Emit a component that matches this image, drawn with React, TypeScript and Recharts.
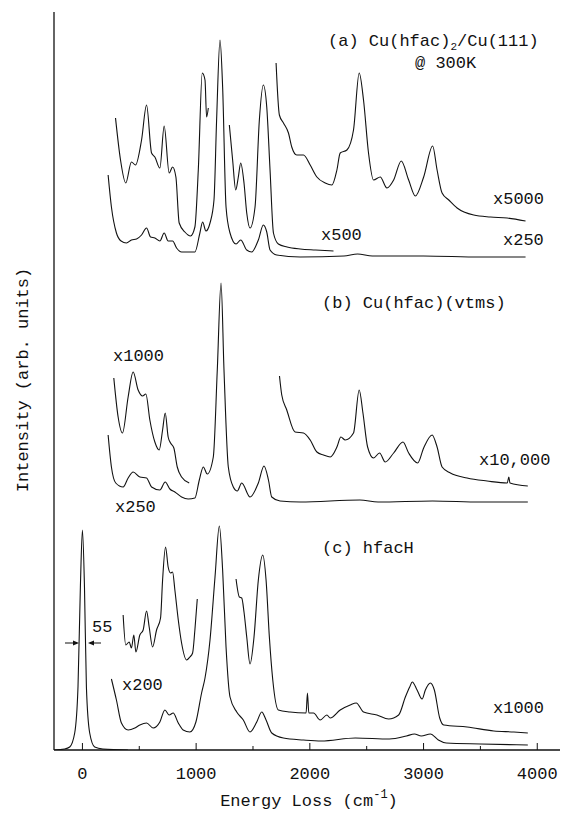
import React from 'react';
import { LineChart, Line, XAxis, YAxis } from 'recharts';

// energy loss (cm-1), intensity (arb. units, offset for stacking)
const aX500Left: [number, number][] = [[291,632],[335,590],[381,567],[431,588],[467,585],[520,610],[564,645],[608,597],[637,593],[681,582],[719,624],[763,577],[793,583],[822,573],[851,527],[901,518],[951,514],[989,523],[1019,580],[1054,677],[1078,670],[1092,633],[1107,642]];
const aX500Right: [number, number][] = [[1292,625],[1321,590],[1348,560],[1371,573],[1392,587],[1421,567],[1445,537],[1474,522],[1518,543],[1556,630],[1591,665],[1621,643],[1650,580],[1680,517],[1723,506],[1800,503],[1915,501],[2050,500],[2208,499]];
const aX250: [number, number][] = [[226,575],[255,543],[299,517],[340,509],[387,507],[431,510],[476,511],[520,515],[564,522],[599,513],[637,512],[681,509],[719,517],[754,509],[793,509],[828,502],[872,498],[989,498],[1033,517],[1057,528],[1086,519],[1122,527],[1157,550],[1180,630],[1210,710],[1233,663],[1263,543],[1298,517],[1351,506],[1392,510],[1445,500],[1489,498],[1547,510],[1591,525],[1621,518],[1650,500],[1709,495],[1915,493],[2300,494],[2420,496],[2550,494],[3000,494],[3500,493],[3897,493]];
const aX5000: [number, number][] = [[1703,687],[1732,635],[1768,627],[1812,617],[1841,603],[1885,595],[1944,595],[2003,585],[2062,573],[2135,567],[2194,565],[2238,580],[2267,597],[2326,600],[2384,620],[2434,677],[2472,650],[2516,597],[2560,570],[2619,573],[2678,562],[2737,570],[2804,589],[2869,570],[2928,554],[3001,573],[3080,604],[3119,580],[3163,557],[3222,550],[3295,542],[3441,535],[3589,533],[3736,532],[3897,529]];

const bX1000: [number, number][] = [[276,372],[314,333],[352,317],[402,353],[446,378],[490,360],[529,354],[558,356],[593,330],[637,308],[675,300],[705,320],[728,337],[754,313],[775,307],[804,302],[834,283],[872,273],[939,267]];
const bX250: [number, number][] = [[226,315],[255,283],[293,267],[358,263],[402,272],[446,278],[505,273],[564,272],[608,263],[681,260],[728,268],[769,261],[813,258],[872,253],[930,251],[989,252],[1028,270],[1063,283],[1098,276],[1151,293],[1186,380],[1219,467],[1245,380],[1283,283],[1327,263],[1362,259],[1401,267],[1474,253],[1547,267],[1597,284],[1636,270],[1665,253],[1738,249],[1915,248],[2440,250],[2600,248],[3080,249],[3500,248],[3917,248]];
const bX10000: [number, number][] = [[1733,374],[1753,355],[1797,340],[1870,318],[1944,317],[2003,310],[2062,298],[2120,295],[2179,293],[2238,303],[2273,313],[2311,310],[2384,317],[2434,360],[2467,337],[2508,303],[2560,292],[2613,297],[2663,288],[2737,297],[2819,308],[2869,297],[2948,287],[3001,302],[3075,315],[3119,303],[3163,283],[3236,277],[3383,272],[3559,269],[3736,267],[3750,273],[3760,267],[3917,264]];

const cElastic: [number, number][] = [[-250,0],[-156,1],[-112,3],[-68,17],[-39,63],[-18,163],[0,220],[18,163],[35,63],[64,17],[108,3],[180,1],[400,0]];
const cX1000Left: [number, number][] = [[358,135],[381,105],[411,108],[431,102],[452,115],[470,98],[505,115],[534,120],[564,139],[587,123],[617,103],[652,120],[687,132],[705,170],[731,203],[754,183],[775,177],[793,178],[813,160],[843,130],[872,107],[916,90],[945,93],[969,97],[989,120],[1010,151]];
const cX1000Right: [number, number][] = [[1351,171],[1380,153],[1401,152],[1421,138],[1445,113],[1474,86],[1509,113],[1547,170],[1586,195],[1615,170],[1644,113],[1674,70],[1723,40],[1826,38],[1967,37],[1979,57],[1991,37],[2032,37],[2091,30],[2150,35],[2179,32],[2267,40],[2355,45],[2408,47],[2472,38],[2590,35],[2693,31],[2781,35],[2840,53],[2878,63],[2901,68],[2943,60],[2987,51],[3016,60],[3060,67],[3095,60],[3142,32],[3177,25],[3383,23],[3618,19],[3794,18],[3917,17]];
const cX200: [number, number][] = [[255,71],[299,50],[343,27],[402,20],[461,22],[505,25],[564,27],[622,22],[681,28],[725,40],[763,35],[798,37],[843,27],[886,20],[945,18],[998,28],[1048,57],[1078,72],[1122,110],[1166,173],[1204,224],[1233,180],[1263,103],[1298,53],[1357,38],[1415,30],[1474,18],[1533,28],[1577,38],[1615,30],[1665,17],[1767,12],[1944,10],[2100,9],[2400,12],[2700,11],[2850,14],[2920,16],[2980,14],[3060,16],[3130,10],[3200,7],[3500,6],[3917,5]];

const xTicks = [0, 500, 1000, 1500, 2000, 2500, 3000, 3500, 4000];

const allSeries = [aX500Left, aX500Right, aX250, aX5000, bX1000, bX250, bX10000, cElastic, cX1000Left, cX1000Right, cX200];

const toPts = (arr: [number, number][]) => arr.map(([e, v]) => ({ e, v }));

const ink = '#111';
const font = '"Liberation Mono", "DejaVu Sans Mono", monospace';

const BottomTick = (props: any) => {
  const { x, y, payload } = props;
  const major = payload.value % 1000 === 0;
  return (
    <g>
      <line x1={x} x2={x} y1={y} y2={y - (major ? 7 : 4)} stroke={ink} strokeWidth={1} />
      {major && (
        <text x={x} y={y + 29} textAnchor="middle" fontFamily={font} fontSize={17} fill={ink}>
          {payload.value}
        </text>
      )}
    </g>
  );
};

export default function App() {
  const txt = { fontFamily: font, fontSize: 17, fill: ink };
  return (
    <div style={{ position: 'absolute', left: 0, top: 0, width: 562, height: 813, background: '#fff' }}>
      <LineChart width={562} height={813} margin={{ top: 12, right: 2, bottom: 0, left: 0 }}>
        <XAxis
          xAxisId="b"
          type="number"
          dataKey="e"
          domain={[-250, 4200]}
          allowDataOverflow
          ticks={xTicks}
          interval={0}
          tick={(p: any) => <BottomTick {...p} />}
          tickLine={false}
          tickSize={0}
          tickMargin={0}
          height={63}
          axisLine={{ stroke: ink, strokeWidth: 1.3 }}
        />
        <XAxis
          xAxisId="t"
          orientation="top"
          type="number"
          dataKey="e"
          domain={[-250, 4200]}
          allowDataOverflow
          tick={false}
          tickLine={false}
          height={0}
          axisLine={{ stroke: ink, strokeWidth: 1.3 }}
        />
        <YAxis
          yAxisId="y"
          type="number"
          domain={[0, 738]}
          allowDataOverflow
          width={54}
          tick={false}
          tickLine={false}
          axisLine={{ stroke: ink, strokeWidth: 1.3 }}
        />
        {allSeries.map((s, i) => (
          <Line
            key={i}
            xAxisId="b"
            yAxisId="y"
            data={toPts(s)}
            dataKey="v"
            type="monotone"
            stroke={ink}
            strokeWidth={1.1}
            dot={false}
            activeDot={false}
            isAnimationActive={false}
          />
        ))}
      </LineChart>
      <svg width={562} height={813} style={{ position: 'absolute', left: 0, top: 0, pointerEvents: 'none' }}>
        <text x={328} y={46} {...txt}>
          (a) Cu(hfac)<tspan fontSize={11} dy={4}>2</tspan><tspan dy={-4}>/Cu(111)</tspan>
        </text>
        <text x={415} y={68} {...txt}>@ 300K</text>
        <text x={493} y={204} {...txt}>x5000</text>
        <text x={321} y={240} {...txt}>x500</text>
        <text x={503} y={245} {...txt}>x250</text>

        <text x={322} y={308} {...txt}>(b) Cu(hfac)(vtms)</text>
        <text x={113} y={361} {...txt}>x1000</text>
        <text x={479} y={465} {...txt}>x10,000</text>
        <text x={115} y={512} {...txt}>x250</text>

        <text x={322} y={553} {...txt}>(c) hfacH</text>
        <text x={493} y={713} {...txt}>x1000</text>
        <text x={122} y={690} {...txt}>x200</text>
        <text x={92} y={632} {...txt}>55</text>
        <line x1={65} x2={77} y1={643} y2={643} stroke={ink} strokeWidth={1} />
        <polygon points="79,643 73,640.5 73,645.5" fill={ink} />
        <line x1={90} x2={101} y1={643} y2={643} stroke={ink} strokeWidth={1} />
        <polygon points="88,643 94,640.5 94,645.5" fill={ink} />

        <text transform="translate(28,380) rotate(-90)" textAnchor="middle" {...txt}>
          Intensity (arb. units)
        </text>
        <text x={309} y={806} textAnchor="middle" {...txt}>
          Energy Loss (cm<tspan fontSize={12} dy={-8}>-1</tspan><tspan dy={8}>)</tspan>
        </text>
      </svg>
    </div>
  );
}
